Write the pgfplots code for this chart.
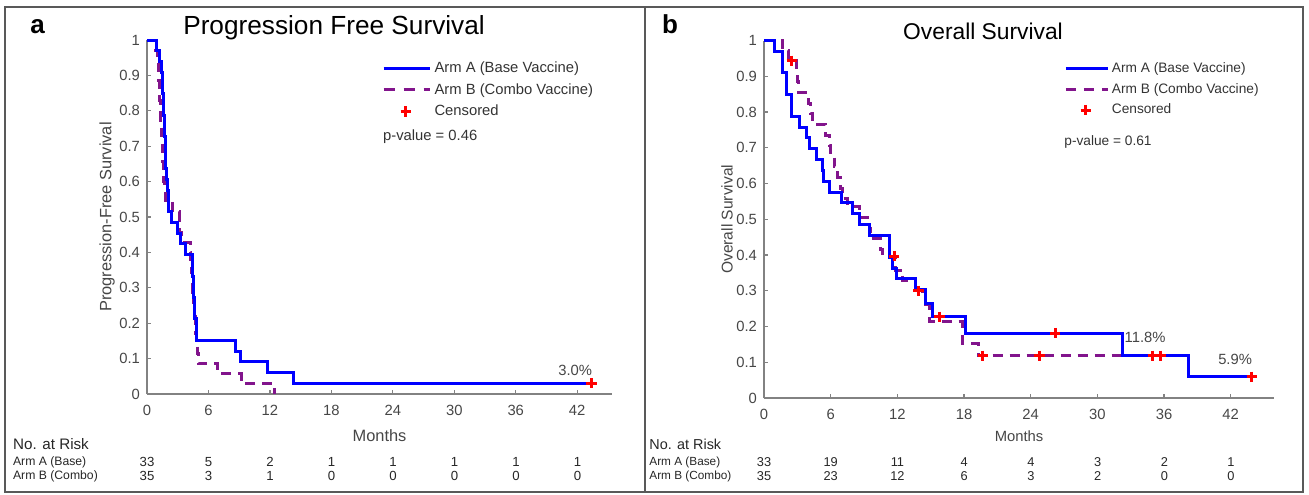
\documentclass[border=0pt]{standalone}
\usepackage{fontspec}
\setmainfont{Liberation Sans}
\usepackage{pgfplots}
\pgfplotsset{compat=1.18}

\definecolor{armA}{RGB}{0,0,255}
\definecolor{armB}{RGB}{130,20,140}
\definecolor{cens}{RGB}{255,0,0}
\definecolor{axgray}{RGB}{130,130,130}
\definecolor{txtgray}{RGB}{70,70,70}

\pgfplotsset{
  kmaxis/.style={
    scale only axis, clip=false,
    axis lines=left,
    axis line style={-, draw=axgray, line width=0.7pt},
    tick align=inside, major tick length=2.2pt,
    tick style={draw=axgray, line width=0.6pt},
    xmin=0, ymin=0, ymax=1,
    xtick={0,6,12,18,24,30,36,42},
    xticklabels={0,6,12,18,24,30,36,42},
    ytick={0,0.1,0.2,0.3,0.4,0.5,0.6,0.7,0.8,0.9,1},
    yticklabels={0,0.1,0.2,0.3,0.4,0.5,0.6,0.7,0.8,0.9,1},
    ticklabel style={text=txtgray, font=\fontsize{7.4}{8}\selectfont},
    xticklabel style={yshift=-2pt},
    legend cell align=left,
  },
  armAline/.style={armA, line width=1.5pt, const plot},
  armBline/.style={armB, line width=1.5pt, const plot, dash pattern=on 5pt off 3.5pt},
  censmark/.style={only marks, mark=+, cens, mark size=2.6pt, line width=1.5pt},
  legline/.style={legend image code/.code={\draw[##1] (0pt,0pt) -- (#1,0pt);}},
}

\begin{document}
\begin{tikzpicture}
\useasboundingbox (0,0) rectangle (654.5pt,247pt);

% ---------------- a: progression free survival
\begin{axis}[kmaxis, at={(73.5pt,50pt)}, anchor=south west,
  width=232.5pt, height=177pt, xmax=45.4,
  ylabel={Progression-Free Survival},
  ylabel style={at={(axis description cs:-0.086,0.5)}, anchor=center,
    font=\fontsize{8.2}{9}\selectfont, text=txtgray},
  xlabel={Months},
  xlabel style={at={(axis description cs:0.5,-0.119)}, anchor=center,
    font=\fontsize{8.2}{9}\selectfont, text=txtgray},
  legend style={at={(0.505,0.943)}, anchor=north west, draw=none, fill=none,
    inner sep=0pt, row sep=2.95pt, font=\fontsize{7.4}{8.5}\selectfont,
    nodes={inner xsep=1.5pt, inner ysep=0pt, text height=6pt, text depth=1.8pt, text=black!80}},
]
\addplot[armBline, forget plot] coordinates {
(0,1) (0.8,0.9714) (1.0,0.9429) (1.1,0.9143) (1.15,0.8857) (1.2,0.8571)
(1.25,0.8286) (1.3,0.8) (1.35,0.7714) (1.4,0.7429) (1.45,0.7143) (1.5,0.6857)
(1.55,0.6571) (1.6,0.6286) (1.65,0.6) (1.72,0.5714) (1.78,0.5429) (2.45,0.5143)
(3.15,0.4857) (3.2,0.4571) (3.4,0.4286) (4.2,0.4) (4.28,0.3714) (4.35,0.3429)
(4.42,0.3143) (4.48,0.2857) (4.55,0.2571) (4.62,0.2286) (4.7,0.2) (4.77,0.1714)
(4.84,0.1429) (4.92,0.1143) (5.02,0.0857) (6.9,0.0571) (9.2,0.0286) (12.45,0)
};
\addplot[armAline, forget plot] coordinates {
(0,1) (0.95,0.9697) (1.25,0.9394) (1.45,0.9091) (1.5,0.8788) (1.55,0.8485)
(1.6,0.8182) (1.65,0.7879) (1.7,0.7576) (1.74,0.7273) (1.78,0.6970) (1.81,0.6667)
(1.84,0.6364) (1.87,0.6061) (2.02,0.5758) (2.06,0.5455) (2.1,0.5152) (2.35,0.4848)
(2.95,0.4545) (3.3,0.4242) (3.75,0.3939) (4.42,0.3636) (4.47,0.3333) (4.52,0.3030)
(4.57,0.2727) (4.62,0.2424) (4.68,0.2121) (4.8,0.1818) (4.87,0.1515) (8.6,0.1212)
(9.1,0.0909) (11.8,0.0606) (14.3,0.0303) (43.4,0.0303)
};
\addplot[censmark, forget plot] coordinates {(43.4,0.0303)};
\addlegendimage{armA, line width=1.5pt, legline=23.15pt}
\addlegendentry{Arm A (Base Vaccine)}
\addlegendimage{armB, line width=1.5pt, dash pattern=on 5.5pt off 4.5pt, legline=23.15pt}
\addlegendentry{Arm B (Combo Vaccine)}
\addlegendimage{only marks, cens, line width=1.5pt, mark=+, mark size=2.6pt, xshift=2.5pt}
\addlegendentry{Censored}
\node[font=\fontsize{7.4}{8}\selectfont, text=txtgray] at (axis cs:41.8,0.068) {3.0\%};
\end{axis}

% ---------------- b: overall survival
\begin{axis}[kmaxis, at={(382pt,48pt)}, anchor=south west,
  width=255pt, height=178.75pt, xmax=45.9,
  ylabel={Overall Survival},
  ylabel style={at={(axis description cs:-0.0725,0.5)}, anchor=center,
    font=\fontsize{7.8}{9}\selectfont, text=txtgray},
  xlabel={Months},
  xlabel style={at={(axis description cs:0.5,-0.107)}, anchor=center,
    font=\fontsize{7.4}{9}\selectfont, text=txtgray},
  legend style={at={(0.588,0.9435)}, anchor=north west, draw=none, fill=none,
    inner sep=0pt, row sep=3.1pt, font=\fontsize{6.85}{8}\selectfont,
    nodes={inner xsep=1pt, inner ysep=0pt, text height=5.6pt, text depth=1.7pt, text=black!80}},
]
\addplot[armBline, forget plot] coordinates {
(0,1) (1.65,0.9714) (2.2,0.9429) (2.9,0.9140) (3.0,0.8842) (3.1,0.8545)
(4.0,0.8248) (4.2,0.7950) (4.4,0.7653) (5.5,0.7355) (5.9,0.7058) (6.0,0.6760)
(6.3,0.6463) (6.6,0.6165) (6.9,0.5868) (7.1,0.5570) (7.5,0.5350) (8.6,0.5050)
(9.5,0.4750) (9.6,0.4450) (10.5,0.4150) (10.7,0.3970) (11.8,0.3580) (12.5,0.3280)
(13.6,0.2980) (14.5,0.2610) (14.9,0.2130) (17.9,0.1530) (19.3,0.1180) (35.7,0.1180)
};
\addplot[armAline, forget plot] coordinates {
(0,1) (0.9,0.9697) (1.65,0.9394) (1.7,0.9091) (2.0,0.8788) (2.05,0.8485)
(2.45,0.8182) (2.5,0.7879) (3.2,0.7576) (3.8,0.7273) (4.1,0.6970) (4.7,0.6667)
(5.3,0.6364) (5.35,0.6061) (5.9,0.5758) (6.95,0.5455) (8.0,0.5152) (8.55,0.4848)
(9.5,0.4545) (11.3,0.3940) (11.6,0.3636) (11.9,0.3333) (13.6,0.3030) (14.5,0.2652)
(15.2,0.2273) (18.1,0.1818) (32.3,0.1182) (38.2,0.0591) (43.9,0.0591)
};
\addplot[censmark, forget plot] coordinates {
(2.5,0.9429) (11.7,0.397) (13.9,0.300) (15.8,0.2273) (19.7,0.118) (24.8,0.118)
(26.2,0.1818) (35.0,0.118) (35.7,0.118) (43.9,0.0591)
};
\addlegendimage{armA, line width=1.5pt, legline=21.3pt}
\addlegendentry{Arm A (Base Vaccine)}
\addlegendimage{armB, line width=1.5pt, dash pattern=on 5pt off 4pt, legline=21.3pt}
\addlegendentry{Arm B (Combo Vaccine)}
\addlegendimage{only marks, cens, line width=1.5pt, mark=+, mark size=2.6pt, xshift=1.5pt}
\addlegendentry{Censored}
\node[font=\fontsize{7.4}{8}\selectfont, text=txtgray] at (axis cs:34.3,0.17) {11.8\%};
\node[font=\fontsize{7.4}{8}\selectfont, text=txtgray] at (axis cs:42.4,0.109) {5.9\%};
\end{axis}

% ---------------- frames, titles, risk tables (pixel coordinates)
\begin{scope}[x=0.5pt, y=-0.5pt, yshift=247pt]
\draw[black!65, line width=0.8pt] (5,7) rectangle (645,492);
\draw[black!65, line width=0.8pt] (645,7) rectangle (1303,492);
\node[font=\bfseries\fontsize{13}{14}\selectfont] at (37.5,27) {a};
\node[font=\bfseries\fontsize{13}{14}\selectfont] at (670,24) {b};
\node[font=\fontsize{13.1}{15}\selectfont] at (334,28) {Progression Free Survival};
\node[font=\fontsize{11.4}{13}\selectfont] at (983,31) {Overall Survival};
\node[anchor=west, inner sep=0pt, font=\fontsize{7.4}{8}\selectfont, text=black!80] at (382.7,136.7) {p-value = 0.46};
\node[anchor=west, inner sep=0pt, font=\fontsize{6.85}{8}\selectfont, text=black!80] at (1064,141.7) {p-value = 0.61};
% left risk table
\node[anchor=west, inner sep=0pt, font=\fontsize{7.6}{9}\selectfont, text=black!85] at (12.7,444) {No. at Risk};
\node[anchor=west, inner sep=0pt, font=\fontsize{6.1}{7}\selectfont, text=black!85] at (12.7,462) {Arm A (Base)};
\node[anchor=west, inner sep=0pt, font=\fontsize{6.1}{7}\selectfont, text=black!85] at (12.7,476) {Arm B (Combo)};
\foreach \x/\a/\b in {147/33/35, 208.5/5/3, 270/2/1, 331.5/1/0, 393/1/0, 454.5/1/0, 516/1/0, 577.5/1/0}{
  \node[inner sep=0pt, font=\fontsize{6.6}{7}\selectfont, text=black!85] at (\x,462) {\a};
  \node[inner sep=0pt, font=\fontsize{6.6}{7}\selectfont, text=black!85] at (\x,476) {\b};
}
% right risk table
\node[anchor=west, inner sep=0pt, font=\fontsize{7.2}{8}\selectfont, text=black!85] at (649,444) {No. at Risk};
\node[anchor=west, inner sep=0pt, font=\fontsize{5.9}{7}\selectfont, text=black!85] at (649,462) {Arm A (Base)};
\node[anchor=west, inner sep=0pt, font=\fontsize{5.9}{7}\selectfont, text=black!85] at (649,476) {Arm B (Combo)};
\foreach \x/\a/\b in {764/33/35, 830.7/19/23, 897.4/11/12, 964.2/4/6, 1030.9/4/3, 1097.6/3/2, 1164.3/2/0, 1231/1/0}{
  \node[inner sep=0pt, font=\fontsize{6.4}{7}\selectfont, text=black!85] at (\x,462) {\a};
  \node[inner sep=0pt, font=\fontsize{6.4}{7}\selectfont, text=black!85] at (\x,476) {\b};
}
\end{scope}
\end{tikzpicture}
\end{document}
